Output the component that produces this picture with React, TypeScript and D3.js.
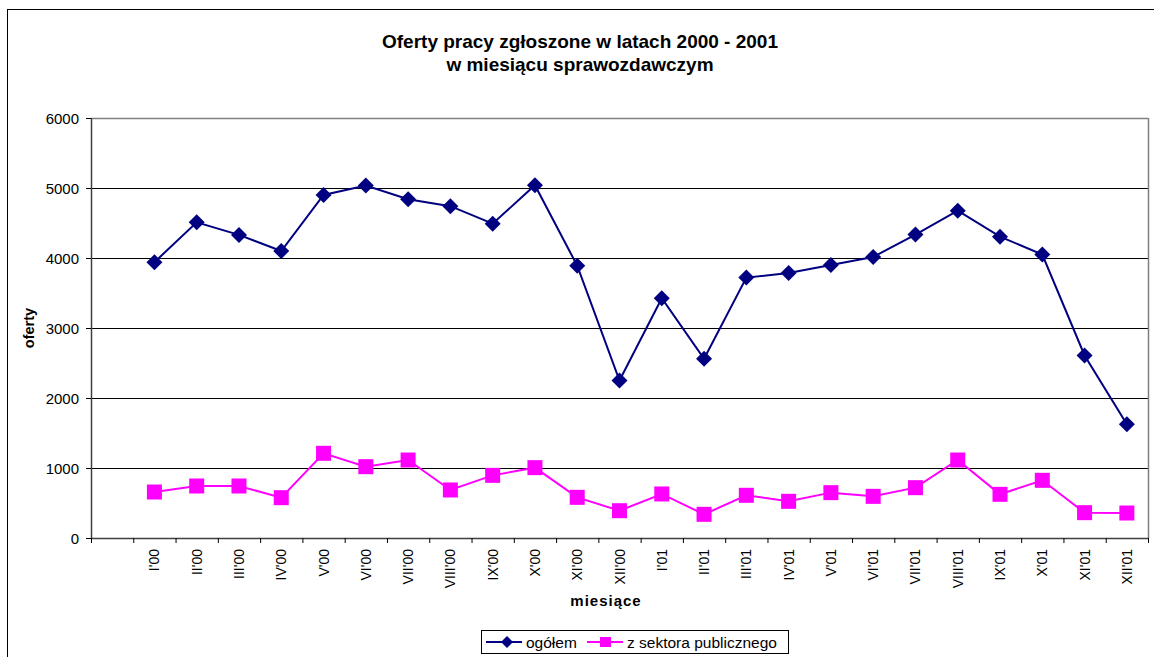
import React from 'react';
import * as d3 from 'd3';

const months = ["I'00", "II'00", "III'00", "IV'00", "V'00", "VI'00", "VII'00", "VIII'00", "IX'00", "X'00", "XI'00", "XII'00",
  "I'01", "II'01", "III'01", "IV'01", "V'01", "VI'01", "VII'01", "VIII'01", "IX'01", "X'01", "XI'01", "XII'01"];
// first category on the axis is empty
const categories = [''].concat(months);

const ogolem = [3940, 4510, 4330, 4100, 4900, 5035, 4840, 4740, 4490, 5040, 3890, 2250,
  3425, 2560, 3720, 3785, 3900, 4015, 4335, 4675, 4305, 4050, 2608, 1626];
const publiczny = [657, 743, 743, 576, 1210, 1019, 1114, 686, 895, 1005, 581, 390,
  629, 338, 610, 524, 648, 595, 719, 1114, 624, 824, 362, 357];

const yTicks = [0, 1000, 2000, 3000, 4000, 5000, 6000];

const W = 1154;
const H = 657;
const font = 'Arial, "Liberation Sans", sans-serif';

export default function App() {
  const x = d3.scaleBand().domain(categories).range([91, 1148]);
  const y = d3.scaleLinear().domain([0, 6000]).range([538, 118]);
  const cx = (i) => x(months[i]) + x.bandwidth() / 2;

  const line = d3.line().x((d, i) => cx(i)).y((d) => y(d));
  const diamond = (px, py, r) => `M${px},${py - r}L${px + r},${py}L${px},${py + r}L${px - r},${py}Z`;

  return (
    <svg width={W} height={H} style={{ position: 'absolute', left: 0, top: 0, background: '#fff' }} fontFamily={font}>
      <rect x={7.5} y={9.5} width={W + 20} height={H + 20} fill="#fff" stroke="#000" strokeWidth={1} />

      <text x={580} y={48} textAnchor="middle" fontWeight="bold" fontSize={19}>Oferty pracy zgłoszone w latach 2000 - 2001</text>
      <text x={580} y={71} textAnchor="middle" fontWeight="bold" fontSize={19}>w miesiącu sprawozdawczym</text>

      {/* grid */}
      {yTicks.filter((t) => t > 0).map((t) => (
        <line key={t} x1={91} x2={1148} y1={y(t) + 0.5} y2={y(t) + 0.5} stroke={t === 6000 ? '#808080' : '#000'} strokeWidth={t === 6000 ? 1.5 : 1} />
      ))}
      <line x1={1148.5} x2={1148.5} y1={118} y2={538} stroke="#808080" strokeWidth={1.5} />

      {/* y axis */}
      <line x1={91.5} x2={91.5} y1={118} y2={539} stroke="#404040" strokeWidth={1.5} />
      {yTicks.map((t) => (
        <g key={t}>
          <line x1={86} x2={91} y1={y(t) + 0.5} y2={y(t) + 0.5} stroke="#000" />
          <text x={79} y={y(t) + 5.5} textAnchor="end" fontSize={15}>{t}</text>
        </g>
      ))}
      <text transform="translate(34,328) rotate(-90)" textAnchor="middle" fontWeight="bold" fontSize={14.5}>oferty</text>

      {/* x axis */}
      <line x1={91} x2={1149} y1={538.5} y2={538.5} stroke="#404040" strokeWidth={1.5} />
      {categories.map((c) => (
        <line key={'t' + c} x1={x(c) + 0.5} x2={x(c) + 0.5} y1={538} y2={543} stroke="#000" />
      ))}
      <line x1={1148.5} x2={1148.5} y1={538} y2={543} stroke="#000" />
      {months.map((m, i) => (
        <text key={m} transform={`translate(${cx(i) + 5},549) rotate(-90)`} textAnchor="end" fontSize={14}>{m}</text>
      ))}
      <text x={606} y={606} textAnchor="middle" fontWeight="bold" fontSize={15} letterSpacing={1}>miesiące</text>

      {/* series */}
      <path d={line(publiczny)} fill="none" stroke="#FF00FF" strokeWidth={2} />
      {publiczny.map((v, i) => (
        <rect key={'p' + i} x={cx(i) - 7.5} y={y(v) - 7.5} width={15} height={15} fill="#FF00FF" />
      ))}
      <path d={line(ogolem)} fill="none" stroke="#000080" strokeWidth={2} />
      {ogolem.map((v, i) => (
        <path key={'o' + i} d={diamond(cx(i), y(v), 8)} fill="#000080" />
      ))}

      {/* legend */}
      <rect x={481.5} y={630.5} width={307} height={23} fill="#fff" stroke="#000" />
      <line x1={486} x2={522} y1={642} y2={642} stroke="#000080" strokeWidth={2} />
      <path d={diamond(507, 642, 6)} fill="#000080" />
      <text x={526} y={647.5} fontSize={15.5}>ogółem</text>
      <line x1={587} x2={623} y1={642} y2={642} stroke="#FF00FF" strokeWidth={2} />
      <rect x={600} y={637} width={11} height={10} fill="#FF00FF" />
      <text x={627} y={647.5} fontSize={15.5}>z sektora publicznego</text>
    </svg>
  );
}
